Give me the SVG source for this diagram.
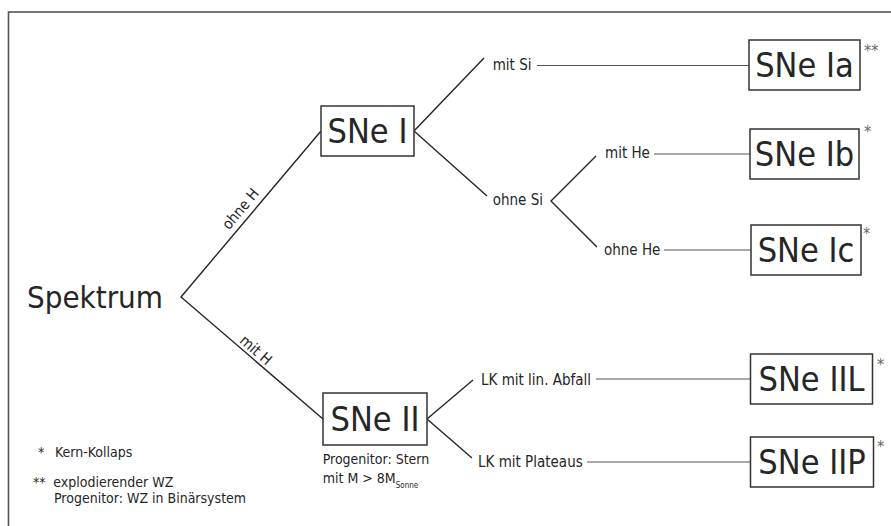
<svg xmlns="http://www.w3.org/2000/svg" width="891" height="526" viewBox="0 0 891 526">
<style>
text{font-family:"DejaVu Sans Condensed","DejaVu Sans","Liberation Sans",sans-serif;fill:#262626}
.box{fill:#fff;stroke:#333;stroke-width:1.5}
.big{font-size:34px;text-anchor:middle}
.lbl{font-size:15px}
.sm{font-size:14px}
.ast{font-size:16px;fill:#666}
.diag{stroke:#262626;stroke-width:1.4;fill:none}
.hor{stroke:#555;stroke-width:1.1;fill:none}
</style>
<rect x="0" y="0" width="891" height="526" fill="#fff"/>
<rect x="8.5" y="12" width="900" height="530" fill="none" stroke="#555" stroke-width="1.6"/>
<g id="connectors">
<polyline class="diag" points="321,131 181,297 323,419"/>
<polyline class="diag" points="484,58 414,131 487,196"/>
<polyline class="diag" points="596,156 551,201 597,247"/>
<polyline class="diag" points="473,380 427,419 472,458"/>
<line class="hor" x1="537" y1="65.5" x2="749" y2="65.5"/>
<line class="hor" x1="654" y1="154" x2="750" y2="154"/>
<line class="hor" x1="664" y1="250" x2="751" y2="250"/>
<line class="hor" x1="596" y1="379" x2="750.5" y2="379"/>
<line class="hor" x1="587" y1="462" x2="750.5" y2="462"/>
<text class="lbl" transform="translate(249,216) rotate(-50)" text-anchor="middle" y="-6">ohne H</text>
<text class="lbl" transform="translate(250,357) rotate(41)" text-anchor="middle" y="-4">mit H</text>
<text class="lbl" x="492.7" y="70">mit Si</text>
<text class="lbl" x="492.7" y="205">ohne Si</text>
<text class="lbl" x="605" y="158">mit He</text>
<text class="lbl" x="604" y="255">ohne He</text>
<text class="lbl" x="481" y="385">LK mit lin. Abfall</text>
<text class="lbl" x="478" y="467">LK mit Plateaus</text>
</g>
<g id="spektrum">
<text x="27" y="308" style="font-size:31px">Spektrum</text>
</g>
<g id="sne1">
<rect class="box" x="321" y="106" width="93" height="50"/>
<text class="big" x="367.5" y="143.4">SNe I</text>
</g>
<g id="sne2">
<rect class="box" x="323" y="393" width="104" height="52"/>
<text class="big" x="375" y="431.4">SNe II</text>
<text class="sm" x="322.7" y="464">Progenitor: Stern</text>
<text class="sm" x="322.7" y="483.3">mit M &gt; 8M<tspan style="font-size:8px" dy="5">Sonne</tspan></text>
</g>
<g id="sne1a">
<rect class="box" x="749" y="40" width="111" height="50"/>
<text class="big" x="804.5" y="77.4">SNe Ia</text>
<text class="ast" x="864" y="56">**</text>
</g>
<g id="sne1b">
<rect class="box" x="750" y="129" width="109" height="50"/>
<text class="big" x="804.5" y="166.4">SNe Ib</text>
<text class="ast" x="864" y="137">*</text>
</g>
<g id="sne1c">
<rect class="box" x="751" y="225" width="110" height="50"/>
<text class="big" x="806" y="262.4">SNe Ic</text>
<text class="ast" x="863" y="239">*</text>
</g>
<g id="sne2l">
<rect class="box" x="750.5" y="354" width="122" height="50"/>
<text class="big" x="811.5" y="391.4">SNe IIL</text>
<text class="ast" x="877" y="370">*</text>
</g>
<g id="sne2p">
<rect class="box" x="750.5" y="437" width="123" height="50"/>
<text class="big" x="812" y="474.4">SNe IIP</text>
<text class="ast" x="877" y="452">*</text>
</g>
<g id="legend">
<text class="sm" x="38" y="457">*</text>
<text class="sm" x="55" y="457">Kern-Kollaps</text>
<text class="sm" x="33" y="487">**</text>
<text class="sm" x="53.3" y="487">explodierender WZ</text>
<text class="sm" x="54" y="502.5">Progenitor: WZ in Binärsystem</text>
</g>
</svg>
